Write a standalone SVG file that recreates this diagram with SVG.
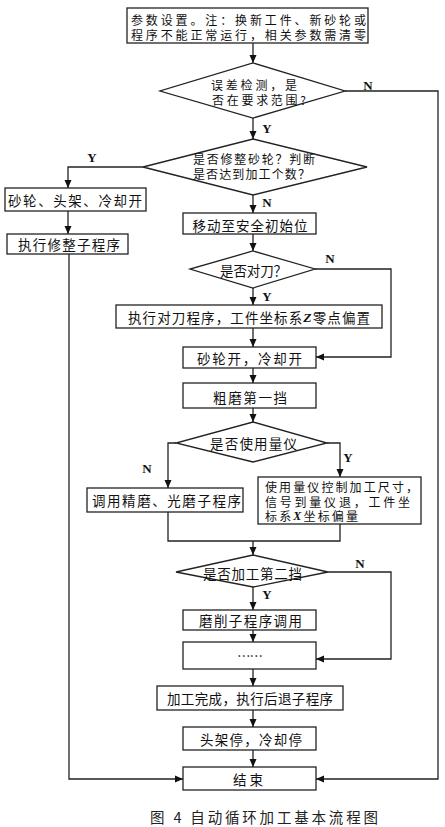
<svg xmlns="http://www.w3.org/2000/svg" width="445" height="827" viewBox="0 0 445 827">
<style>
.b{fill:#fff;stroke:#222;stroke-width:1.3}
.t{font-family:"Noto Sans CJK SC","Noto Sans",sans-serif;font-size:13.5px;fill:#111;dominant-baseline:central}
.m{font-size:12px}
.c{text-anchor:middle}
.l{font-family:"Liberation Serif",serif;font-weight:bold;font-size:13px;fill:#111;dominant-baseline:central;text-anchor:middle}
.i{font-family:"Liberation Serif",serif;font-weight:bold;font-style:italic}
.k{fill:none;stroke:#222;stroke-width:1.3}
.cap{font-family:"Noto Sans CJK SC",sans-serif;font-size:14.5px;fill:#222;dominant-baseline:central}
</style>
<defs>
<marker id="a" markerUnits="userSpaceOnUse" markerWidth="8" markerHeight="8" refX="8" refY="4" orient="auto">
<path d="M0,0.5 L8,4 L0,7.5 z" fill="#111"/>
</marker>
</defs>
<rect width="445" height="827" fill="#fff"/>
<g id="connectors">
<path class="k" d="M253,43 V63" marker-end="url(#a)"/>
<path class="k" d="M345,91 H438 V779 H316" marker-end="url(#a)"/>
<path class="k" d="M253,118 V139" marker-end="url(#a)"/>
<path class="k" d="M143,167 H68 V188" marker-end="url(#a)"/>
<path class="k" d="M68,211 V234" marker-end="url(#a)"/>
<path class="k" d="M69,254 V779 H183" marker-end="url(#a)"/>
<path class="k" d="M253,195 V213" marker-end="url(#a)"/>
<path class="k" d="M253,234 V251" marker-end="url(#a)"/>
<path class="k" d="M315,269 H391 V357 H316" marker-end="url(#a)"/>
<path class="k" d="M253,288 V305" marker-end="url(#a)"/>
<path class="k" d="M253,328 V347" marker-end="url(#a)"/>
<path class="k" d="M253,368 V383" marker-end="url(#a)"/>
<path class="k" d="M253,408 V422" marker-end="url(#a)"/>
<path class="k" d="M176,443 H168 V488" marker-end="url(#a)"/>
<path class="k" d="M327,443 H340 V477" marker-end="url(#a)"/>
<path class="k" d="M168,512 V541 H340 V524"/>
<path class="k" d="M253,541 V555" marker-end="url(#a)"/>
<path class="k" d="M328,572 H391 V659 H316" marker-end="url(#a)"/>
<path class="k" d="M253,587 V610" marker-end="url(#a)"/>
<path class="k" d="M253,630 V642" marker-end="url(#a)"/>
<path class="k" d="M253,669 V686" marker-end="url(#a)"/>
<path class="k" d="M253,710 V727" marker-end="url(#a)"/>
<path class="k" d="M253,750 V767" marker-end="url(#a)"/>
<text class="l" x="368" y="85">N</text>
<text class="l" x="267" y="128">Y</text>
<text class="l" x="92" y="157">Y</text>
<text class="l" x="267" y="202">N</text>
<text class="l" x="330" y="258">N</text>
<text class="l" x="267" y="296">Y</text>
<text class="l" x="147" y="468">N</text>
<text class="l" x="348" y="457">Y</text>
<text class="l" x="360" y="563">N</text>
<text class="l" x="267" y="594">Y</text>
</g>
<g id="n1">
<rect class="b" x="127" y="8" width="241" height="35"/>
<text class="t m" x="131" y="19.5" textLength="235" lengthAdjust="spacing">参数设置。注：换新工件、新砂轮或</text>
<text class="t m" x="131" y="34" textLength="235" lengthAdjust="spacing">程序不能正常运行，相关参数需清零</text>
</g>
<g id="d1">
<polygon class="b" points="253,63 345,91 253,118 160,91"/>
<text class="t m" x="211" y="84.5" textLength="86" lengthAdjust="spacing">误差检测，是</text>
<text class="t m" x="212" y="99" textLength="94" lengthAdjust="spacing">否在要求范围?</text>
</g>
<g id="d2">
<polygon class="b" points="253,139 367,167 253,195 143,167"/>
<text class="t m" x="193" y="158.5" textLength="122" lengthAdjust="spacing">是否修整砂轮？判断</text>
<text class="t m" x="193" y="173" textLength="117" lengthAdjust="spacing">是否达到加工个数？</text>
</g>
<g id="n2">
<rect class="b" x="5" y="188" width="141" height="23"/>
<text class="t c" x="75" y="200" textLength="134" lengthAdjust="spacing">砂轮、头架、冷却开</text>
</g>
<g id="n3">
<rect class="b" x="7" y="234" width="121" height="20"/>
<text class="t c" x="69" y="244" textLength="102" lengthAdjust="spacing">执行修整子程序</text>
</g>
<g id="n4">
<rect class="b" x="183" y="213" width="133" height="21"/>
<text class="t c" x="250" y="224.5" textLength="115" lengthAdjust="spacing">移动至安全初始位</text>
</g>
<g id="d3">
<polygon class="b" points="253,251 315,269 253,288 190,269"/>
<text class="t c" x="253.5" y="270" textLength="67" lengthAdjust="spacing">是否对刀？</text>
</g>
<g id="n5">
<rect class="b" x="116" y="305" width="266" height="23"/>
<text class="t c" x="249" y="317" textLength="242" lengthAdjust="spacing">执行对刀程序，工件坐标系<tspan class="i">Z</tspan>零点偏置</text>
</g>
<g id="n6">
<rect class="b" x="183" y="347" width="133" height="21"/>
<text class="t c" x="249.5" y="357.5" textLength="105" lengthAdjust="spacing">砂轮开，冷却开</text>
</g>
<g id="n7">
<rect class="b" x="183" y="383" width="133" height="25"/>
<text class="t c" x="250" y="396.5" textLength="74" lengthAdjust="spacing">粗磨第一挡</text>
</g>
<g id="d4">
<polygon class="b" points="253,422 327,443 253,462 176,443"/>
<text class="t c" x="253.5" y="443" textLength="87" lengthAdjust="spacing">是否使用量仪</text>
</g>
<g id="n8">
<rect class="b" x="87" y="488" width="156" height="24"/>
<text class="t c" x="166.5" y="500" textLength="149" lengthAdjust="spacing">调用精磨、光磨子程序</text>
</g>
<g id="n9">
<rect class="b" x="258" y="477" width="163" height="47"/>
<text class="t m" x="265" y="486.5" textLength="153" lengthAdjust="spacing">使用量仪控制加工尺寸，</text>
<text class="t m" x="265" y="501" textLength="145" lengthAdjust="spacing">信号到量仪退，工件坐</text>
<text class="t m" x="265" y="515.5" textLength="93" lengthAdjust="spacing">标系<tspan class="i">X</tspan>坐标偏量</text>
</g>
<g id="d5">
<polygon class="b" points="253,555 328,572 253,587 176,572"/>
<text class="t c" x="252.5" y="573" textLength="99" lengthAdjust="spacing">是否加工第二挡</text>
</g>
<g id="n10">
<rect class="b" x="183" y="610" width="133" height="20"/>
<text class="t c" x="250.5" y="619.5" textLength="103" lengthAdjust="spacing">磨削子程序调用</text>
</g>
<g id="n11">
<rect class="b" x="183" y="642" width="133" height="27"/>
<text class="t c" x="250" y="655" textLength="26" lengthAdjust="spacing">……</text>
</g>
<g id="n12">
<rect class="b" x="157" y="686" width="186" height="24"/>
<text class="t c" x="250" y="698" textLength="166" lengthAdjust="spacing">加工完成，执行后退子程序</text>
</g>
<g id="n13">
<rect class="b" x="183" y="727" width="133" height="23"/>
<text class="t c" x="251" y="738.5" textLength="102" lengthAdjust="spacing">头架停，冷却停</text>
</g>
<g id="n14">
<rect class="b" x="183" y="767" width="133" height="23"/>
<text class="t c" x="248" y="778.5" textLength="30" lengthAdjust="spacing">结束</text>
</g>
<text class="cap" x="150" y="816" textLength="228" lengthAdjust="spacing">图 4 自动循环加工基本流程图</text>
</svg>
